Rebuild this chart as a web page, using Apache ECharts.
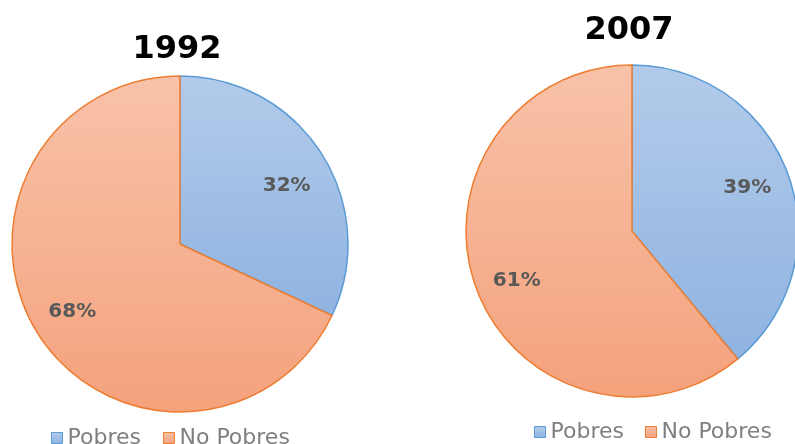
<!DOCTYPE html>
<html>
<head>
<meta charset="utf-8">
<script src="https://cdn.jsdelivr.net/npm/echarts@6/dist/echarts.min.js"></script>
<style>
html,body{margin:0;padding:0;background:#fff;}
#chart{width:795px;height:444px;}
</style>
</head>
<body>
<div id="chart"></div>
<script>
const categories = ['Pobres', 'No Pobres'];
const years = ['1992', '2007'];
const values1992 = [32, 68];
const values2007 = [39, 61];

const chart = echarts.init(document.getElementById('chart'), null, {renderer: 'canvas'});

function grad(top, bottom) {
  return new echarts.graphic.LinearGradient(0, 0, 0, 1, [
    {offset: 0, color: top},
    {offset: 1, color: bottom}
  ]);
}
const fills = [grad('#b3cbea', '#8fb3e1'), grad('#f8c2a9', '#f4a27c')];
const borders = ['#5b9bd5', '#ed7d31'];
// small label nudges (style only)
const labelNudge1992 = [[2, 8], [-3, 1]];
const labelNudge2007 = [[0, -2], [0, 8]];

function pieData(vals) {
  return categories.map((c, i) => ({
    name: c, value: vals[i],
    itemStyle: {color: fills[i], borderColor: borders[i], borderWidth: 1.5}
  }));
}
function labelData(vals, nudge) {
  return categories.map((c, i) => ({name: c, value: vals[i], label: {offset: nudge[i]}}));
}
const labelStyle = {
  show: true, position: 'inside', formatter: '{c}%',
  fontFamily: 'DejaVu Sans', fontWeight: 'bold', fontSize: 20, color: '#595959'
};

function pieSeries(vals, center, r, nudge) {
  return [{
    type: 'pie', center: center, radius: [0, r], startAngle: 90, clockwise: true,
    data: pieData(vals), label: {show: false}, labelLine: {show: false},
    silent: true, animation: false
  }, {
    type: 'pie', center: center, radius: [Math.round(r * 0.44), r], startAngle: 90, clockwise: true,
    data: labelData(vals, nudge),
    itemStyle: {color: 'rgba(0,0,0,0)', borderWidth: 0},
    label: labelStyle, labelLine: {show: false},
    silent: true, animation: false, legendHoverLink: false
  }];
}

const legendText = {fontFamily: 'DejaVu Sans', fontSize: 22, color: '#7f7f7f'};
const option = {
  animation: false,
  title: [
    {text: years[0], left: 172, top: 29, textAlign: 'center',
     textStyle: {fontFamily: 'DejaVu Sans', fontWeight: 'bold', fontSize: 32, color: '#000'}},
    {text: years[1], left: 624, top: 10, textAlign: 'center',
     textStyle: {fontFamily: 'DejaVu Sans', fontWeight: 'bold', fontSize: 32, color: '#000'}}
  ],
  legend: [
    {data: categories, left: 46, top: 422, icon: 'rect', itemWidth: 11, itemHeight: 11,
     itemGap: 22, textStyle: legendText, selectedMode: false,
     itemStyle: {borderWidth: 1}},
    {data: categories, left: 529, top: 416, icon: 'rect', itemWidth: 11, itemHeight: 11,
     itemGap: 21, textStyle: legendText, selectedMode: false,
     itemStyle: {borderWidth: 1}}
  ],
  series: [
    ...pieSeries(values1992, [180, 244], 168, labelNudge1992),
    ...pieSeries(values2007, [632, 231], 166, labelNudge2007)
  ]
};
chart.setOption(option);
</script>
</body>
</html>
